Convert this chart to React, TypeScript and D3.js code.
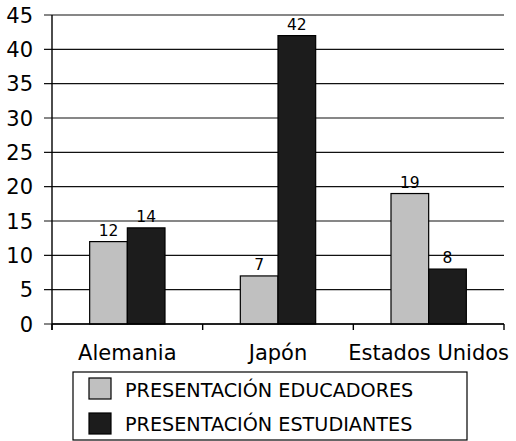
import React from "react";
import * as d3 from "d3";

const categories = ["Alemania", "Japón", "Estados Unidos"];
const seriesNames = ["PRESENTACIÓN EDUCADORES", "PRESENTACIÓN ESTUDIANTES"];
const educadores = [12, 7, 19];
const estudiantes = [14, 42, 8];
const yTicks = [0, 5, 10, 15, 20, 25, 30, 35, 40, 45];
const seriesColors = ["#c0c0c0", "#1c1c1c"];

const W = 516;
const H = 441;
const margin = { left: 52, right: 12, top: 15, bottom: 117 };
const FONT = "'DejaVu Sans', sans-serif";

export default function App() {
  const x = d3
    .scaleBand<string>()
    .domain(categories)
    .range([margin.left, W - margin.right]);
  const y = d3.scaleLinear().domain([0, 45]).range([H - margin.bottom, margin.top]);
  const inner = d3
    .scaleBand<number>()
    .domain([0, 1])
    .range([0, x.bandwidth()])
    .paddingInner(0)
    .paddingOuter(1);

  const series = [educadores, estudiantes];
  const x0 = margin.left;
  const x1 = W - margin.right;
  const y0 = y(0);
  const boundaries = [...categories.map((c) => x(c)!), x1];

  return (
    <svg
      width={W}
      height={H}
      style={{ position: "absolute", left: 0, top: 0, background: "#fff" }}
      fontFamily={FONT}
    >
      {/* gridlines and y ticks */}
      {yTicks.map((t) => (
        <g key={t}>
          <line x1={x0 - 8} x2={x1} y1={y(t)} y2={y(t)} stroke="#111" strokeWidth={1.2} />
          <text x={33} y={y(t)} dy="0.36em" textAnchor="end" fontSize={21} fill="#000">
            {t}
          </text>
        </g>
      ))}
      {/* y axis */}
      <line x1={x0} x2={x0} y1={y(45)} y2={y0 + 6} stroke="#000" strokeWidth={1.4} />
      {/* category separator ticks */}
      {boundaries.map((b, i) => (
        <line key={i} x1={b} x2={b} y1={y0} y2={y0 + 6} stroke="#000" strokeWidth={1.4} />
      ))}
      {/* bars */}
      {categories.map((c, ci) => (
        <g key={c}>
          {series.map((s, si) => {
            const bx = x(c)! + inner(si)!;
            const bw = inner.bandwidth();
            return (
              <g key={si}>
                <rect
                  x={bx}
                  y={y(s[ci])}
                  width={bw}
                  height={y0 - y(s[ci])}
                  fill={seriesColors[si]}
                  stroke="#000"
                  strokeWidth={1.2}
                />
                <text
                  x={bx + bw / 2}
                  y={y(s[ci]) - 6}
                  textAnchor="middle"
                  fontSize={15.5}
                  fill="#000"
                >
                  {s[ci]}
                </text>
              </g>
            );
          })}
        </g>
      ))}
      {/* x axis baseline */}
      <line x1={x0} x2={x1} y1={y0} y2={y0} stroke="#000" strokeWidth={1.4} />
      {/* category labels */}
      {categories.map((c) => (
        <text
          key={c}
          x={x(c)! + x.bandwidth() / 2}
          y={360}
          textAnchor="middle"
          fontSize={21}
          fill="#000"
        >
          {c}
        </text>
      ))}
      {/* legend */}
      <rect x={73} y={372} width={394} height={68} fill="#fff" stroke="#000" strokeWidth={1.2} />
      {seriesNames.map((n, i) => (
        <g key={n}>
          <rect
            x={89}
            y={378 + i * 35}
            width={22}
            height={21}
            fill={seriesColors[i]}
            stroke="#000"
            strokeWidth={1.2}
          />
          <text x={125} y={397 + i * 34} fontSize={19.2} fill="#000">
            {n}
          </text>
        </g>
      ))}
    </svg>
  );
}
